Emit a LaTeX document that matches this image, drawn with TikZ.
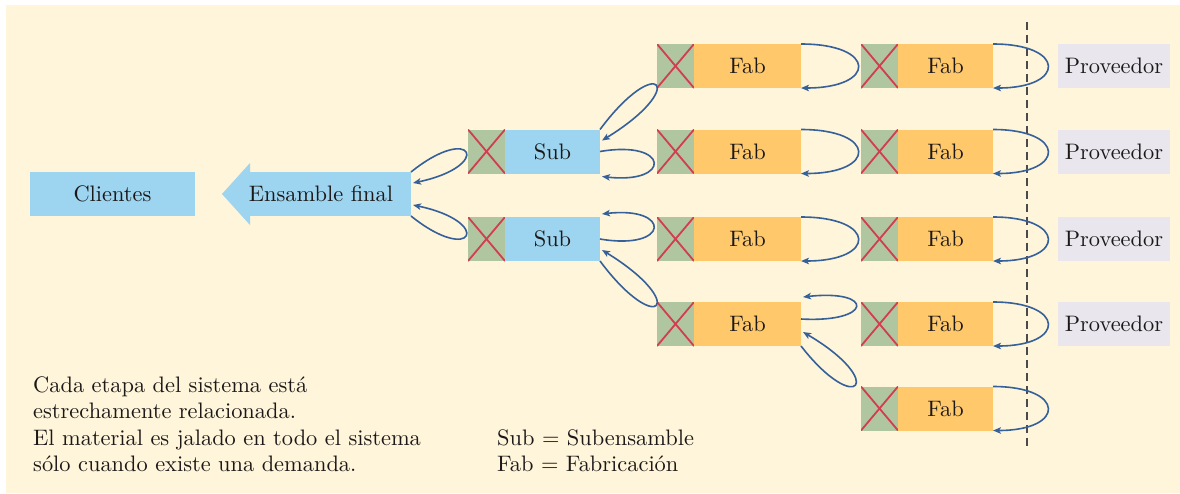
\documentclass[tikz,border=0pt]{standalone}
\usepackage{fontspec}
\setmainfont{lmroman10-regular.otf}
\usetikzlibrary{arrows.meta,calc}
\definecolor{cream}{HTML}{FEF5DA}
\definecolor{lblue}{HTML}{9DD4EF}
\definecolor{kgreen}{HTML}{B0C6A0}
\definecolor{xred}{HTML}{D03E50}
\definecolor{forange}{HTML}{FFC96B}
\definecolor{pgray}{HTML}{E9E6EE}
\definecolor{ablue}{HTML}{36609A}
\definecolor{ink}{HTML}{1C1818}
\definecolor{dashgray}{HTML}{4A4A4A}
\begin{document}
\begin{tikzpicture}[x=1pt,y=-1pt,
  lbl/.style={font=\fontsize{22.4}{26.5}\selectfont, text=ink},
  blk/.style={inner sep=0pt, outer sep=0pt, minimum height=44pt, lbl},
  kan/.style={blk, fill=kgreen, minimum width=37pt,
    path picture={\draw[xred, line width=1.8pt]
      (path picture bounding box.north west) -- (path picture bounding box.south east)
      (path picture bounding box.south west) -- (path picture bounding box.north east);}},
  subbox/.style={blk, fill=lblue, minimum width=95pt, anchor=west},
  fabA/.style={blk, fill=forange, minimum width=107pt, anchor=west},
  fabB/.style={blk, fill=forange, minimum width=95pt, anchor=west},
  prov/.style={blk, fill=pgray, minimum width=112pt},
  pull/.style={draw=ablue, line width=1.6pt, -{Stealth[length=8pt,width=6.5pt,inset=2pt]}},
  limit/.style={draw=dashgray, line width=1.5pt, dash pattern=on 8pt off 5pt},
]
\useasboundingbox (0,0) rectangle (1180,493);
\fill[cream] (6,5) rectangle (1180,493);

% customers and final assembly
\node[blk, fill=lblue, minimum width=165pt] (cli) at (112.5,194) {Clientes};
\node[blk, fill=lblue, minimum width=161pt] (ens) at (330.5,194) {};
\fill[lblue] (ens.north west) -- ++(0,-9) -- (222,194) -- ($(ens.south west)+(0,9)$) -- ($(ens.south west)+(0,0.5)$) -- ($(ens.north west)+(0,-0.5)$) -- cycle;
\node[lbl] (enstxt) at (321,194) {Ensamble final};

% subassembly stations
\node[kan] (ks1) at (486.5,151.5) {};
\node[subbox] (s1) at (ks1.east) {Sub};
\node[kan] (ks2) at (486.5,239) {};
\node[subbox] (s2) at (ks2.east) {Sub};

% fabrication stations, first column
\foreach \r/\y in {1/66,2/151.5,3/239,4/324}{
  \node[kan] (kA\r) at (675.5,\y) {};
  \node[fabA] (fA\r) at (kA\r.east) {Fab};
}
% fabrication stations, second column
\foreach \r/\y in {1/66,2/151.5,3/239,4/324,5/408.5}{
  \node[kan] (kB\r) at (879.5,\y) {};
  \node[fabB] (fB\r) at (kB\r.east) {Fab};
}
% suppliers
\foreach \r/\y in {1/66,2/151.5,3/239,4/324}{
  \node[prov] (p\r) at (1114,\y) {Proveedor};
}

% plant boundary
\draw[limit] (1027,22) -- (1027,447);

% pull loops
\draw[pull] (ens.north east) .. controls +(62,-50) and +(81,-17) .. ($(ens.east)+(2,-11)$);
\draw[pull] (ens.south east) .. controls +(62,50) and +(81,17) .. ($(ens.east)+(2,11)$);

\draw[pull] (s1.north east) .. controls +(58,-78) and +(88,-54) .. ($(s1.north east)+(2,11)$);
\draw[pull] (s1.east) .. controls +(70,-12) and +(70,8) .. ($(s1.south east)+(2,3)$);
\draw[pull] (s2.east) .. controls +(70,12) and +(70,-8) .. ($(s2.north east)+(2,-3)$);
\draw[pull] (s2.south east) .. controls +(58,78) and +(88,54) .. ($(s2.south east)+(2,-11)$);

\foreach \r in {1,2,3}
  \draw[pull] (fA\r.north east) .. controls +(76,0) and +(76,0) .. (fA\r.south east);
\draw[pull] ($(fA4.east)+(0,-5)$) .. controls +(72,4) and +(72,-8) .. ($(fA4.north east)+(2,-5)$);
\draw[pull] (fA4.south east) .. controls +(56,72) and +(85,50) .. ($(fA4.east)+(2,8)$);

\foreach \r in {1,...,5}
  \draw[pull] (fB\r.north east) .. controls +(73,0) and +(73,0) .. (fB\r.south east);

% notes
\node[lbl, anchor=north west, inner sep=0pt, align=left] (note) at (33,376)
  {Cada etapa del sistema está\\estrechamente relacionada.\\El material es jalado en todo el sistema\\sólo cuando existe una demanda.};
\node[lbl, anchor=north west, inner sep=0pt, align=left] (key) at (497,429)
  {Sub = Subensamble\\Fab = Fabricación};
\end{tikzpicture}
\end{document}
